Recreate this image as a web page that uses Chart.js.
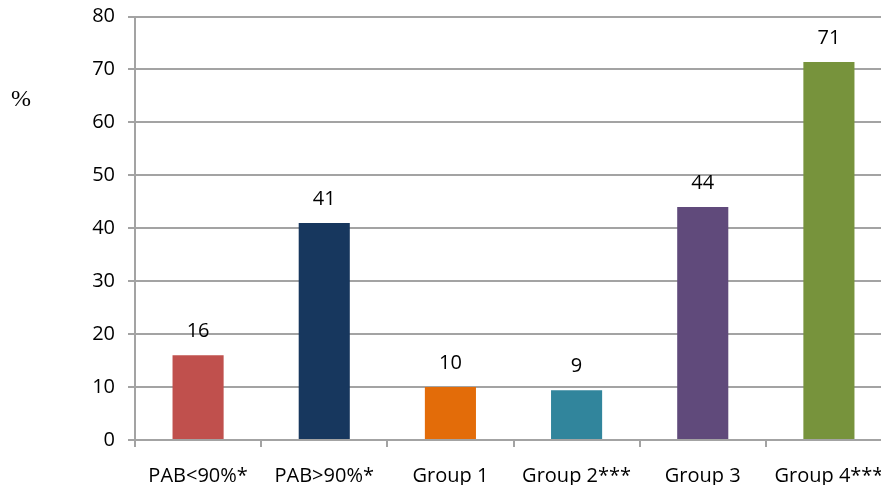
<!DOCTYPE html>
<html>
<head>
<meta charset="utf-8">
<script src="https://cdn.jsdelivr.net/npm/chart.js@4"></script>
<style>
  html, body { margin: 0; padding: 0; background: #fff; overflow: hidden; }
  #wrap { position: relative; width: 900px; height: 485px; }
  #pct { position: absolute; left: 11px; top: 85px; font: 24px "Liberation Serif", serif; color: #000; }
</style>
</head>
<body>
<div id="wrap">
  <canvas id="chart"></canvas>
  <div id="pct">%</div>
</div>
<script>
const categories = ["PAB<90%*", "PAB>90%*", "Group 1", "Group 2***", "Group 3", "Group 4***"];
const values = [16, 41, 10, 9.4, 44, 71.4];
const barColors = ["#C0504D", "#17375E", "#E36C09", "#31859C", "#604A7B", "#77933C"];
const yTicks = [0, 10, 20, 30, 40, 50, 60, 70, 80];

const gridGray = "#a3a3a3";
const fontSize = 20;

// draws the value above each bar
const valueLabels = {
    id: "valueLabels",
    afterDatasetsDraw(chart) {
        const ctx = chart.ctx;
        const meta = chart.getDatasetMeta(0);
        ctx.save();
        ctx.font = fontSize + "px 'Open Sans'";
        ctx.fillStyle = "#000";
        ctx.textAlign = "center";
        ctx.textBaseline = "middle";
        meta.data.forEach((bar, i) => {
            ctx.fillText(Math.round(values[i]), bar.x, bar.y - 24);
        });
        ctx.restore();
    }
};

new Chart(document.getElementById("chart"), {
    type: "bar",
    data: {
        labels: categories,
        datasets: [{
            data: values,
            backgroundColor: barColors,
            barPercentage: 0.405,
            categoryPercentage: 1
        }]
    },
    options: {
        responsive: true,
        maintainAspectRatio: false,
        animation: false,
        layout: { padding: { top: 16.5, right: 8, left: 0, bottom: 0 } },
        plugins: {
            legend: { display: false },
            tooltip: { enabled: false }
        },
        scales: {
            x: {
                grid: {
                    display: true,
                    drawOnChartArea: false,
                    offset: true,
                    color: gridGray,
                    lineWidth: 2,
                    tickLength: 7
                },
                border: { display: false },
                ticks: {
                    color: "#000",
                    font: { family: "Open Sans", size: fontSize },
                    padding: 17,
                    maxRotation: 0,
                    autoSkip: false
                },
                afterFit(scale) {
                    scale.height = 45;
                    scale.paddingLeft = 0;
                    scale.paddingRight = 0;
                }
            },
            y: {
                min: 0,
                max: 80,
                afterBuildTicks(scale) { scale.ticks = yTicks.map(v => ({ value: v })); },
                grid: {
                    color: gridGray,
                    lineWidth: 2,
                    tickLength: 7
                },
                border: { display: true, color: gridGray, width: 2 },
                ticks: {
                    color: "#000",
                    font: { family: "Open Sans", size: fontSize },
                    padding: 13
                },
                afterFit(scale) {
                    scale.width = 135;
                    scale.paddingTop = 0;
                    scale.paddingBottom = 0;
                }
            }
        }
    },
    plugins: [valueLabels]
});
</script>
</body>
</html>
